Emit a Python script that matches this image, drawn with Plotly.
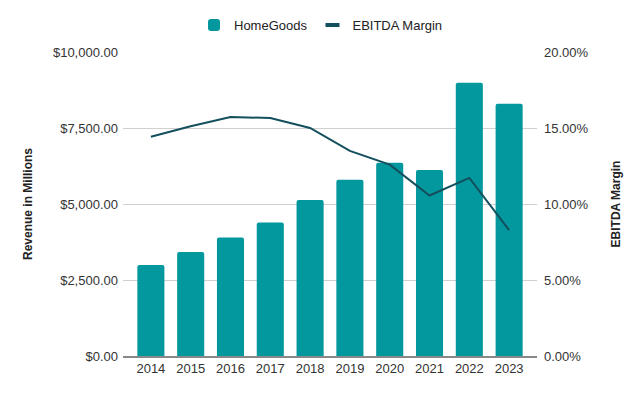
import plotly.graph_objects as go

years = ["2014", "2015", "2016", "2017", "2018", "2019", "2020", "2021", "2022", "2023"]
revenue = [2990, 3420, 3900, 4390, 5130, 5800, 6360, 6120, 8990, 8300]
ebitda_margin = [0.1443, 0.1511, 0.1572, 0.1566, 0.1500, 0.1349, 0.1259, 0.1056, 0.1172, 0.0828]

left_ticks = [0, 2500, 5000, 7500, 10000]
right_ticks = [0, 0.05, 0.10, 0.15, 0.20]

bar_color = "#03989e"
line_color = "#134f5c"

fig = go.Figure()
fig.add_trace(go.Bar(
    x=years, y=revenue, name="HomeGoods",
    marker=dict(color=bar_color, cornerradius=2, line=dict(width=0)),
    yaxis="y",
))
fig.add_trace(go.Scatter(
    x=years, y=ebitda_margin, name="EBITDA Margin", mode="lines",
    line=dict(color=line_color, width=2),
    yaxis="y2", showlegend=False,
))
# legend entry with short thick swatch like the reference
fig.add_trace(go.Scatter(
    x=[None], y=[None], name="EBITDA Margin", mode="markers",
    marker=dict(symbol="line-ew", size=10, line=dict(color=line_color, width=4)),
    yaxis="y2",
))

font_family = "Liberation Sans, Arial, sans-serif"
fig.update_layout(
    width=640, height=396,
    margin=dict(l=115, r=111, t=44, b=48, autoexpand=False),
    paper_bgcolor="white", plot_bgcolor="white",
    font=dict(family=font_family, size=13, color="#333333"),
    bargap=0.32,
    showlegend=True,
    legend=dict(orientation="h", xref="paper", x=0.1715, xanchor="left",
                yref="container", y=0.957, yanchor="middle",
                font=dict(size=13, color="#222222"), itemwidth=30),
    xaxis=dict(showgrid=False, showline=True, linecolor="#888888", linewidth=1.5,
               range=[-0.7, 9.7], ticks="", tickfont=dict(size=13, color="#333333")),
    yaxis=dict(range=[0, 10000], tickvals=left_ticks, tickformat="$,.2f",
               showgrid=True, gridcolor="#d0d0d0", gridwidth=1, zeroline=False,
               ticks="", ticklabelstandoff=4, tickfont=dict(size=13),
               title=dict(text="<b>Revenue in Millions</b>", font=dict(size=12, color="#222222"), standoff=17)),
    yaxis2=dict(range=[0, 0.20], tickvals=right_ticks, tickformat=".2%",
                overlaying="y", side="right", showgrid=False, zeroline=False,
                ticks="", ticklabelstandoff=6, tickfont=dict(size=13),
                title=dict(text="<b>EBITDA Margin</b>", font=dict(size=12, color="#222222"), standoff=24)),
)

fig.write_html("out.html")
